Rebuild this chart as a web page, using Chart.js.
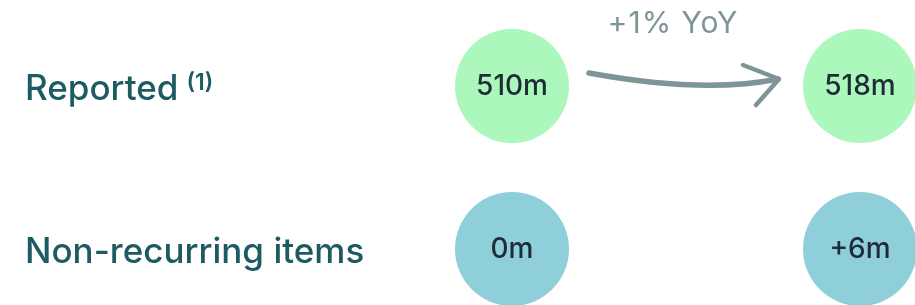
<!DOCTYPE html>
<html>
<head>
<meta charset="utf-8">
<script src="https://cdn.jsdelivr.net/npm/chart.js@4.4.0/dist/chart.umd.min.js"></script>
<style>
  html, body { margin: 0; padding: 0; background: #ffffff; }
  #wrap { width: 915px; height: 305px; position: relative; }
</style>
</head>
<body>
<div id="wrap"><canvas id="CirclesChart"></canvas></div>
<script>
// rows and periods
var rowLabels = ["Reported", "Non-recurring items"];
var rowNotes = ["(1)", ""];
var periods = ["Prior year", "Current year"];
var reportedValues = ["510m", "518m"];
var nonRecurringValues = ["0m", "+6m"];
var changeLabel = "+1% YoY";

var rowColors = ["#acf7bb", "#8ecfd9"];

window.onload = function () {
    var ctx = document.getElementById("CirclesChart").getContext('2d');
    this.CirclesChart = createChart(ctx);
}

function buildDatasets() {
    var rows = [reportedValues, nonRecurringValues];
    return rows.map(function (vals, r) {
        return {
            label: rowLabels[r],
            data: vals.map(function (v, i) { return { x: i, y: r, text: v }; }),
            backgroundColor: rowColors[r],
            borderWidth: 0,
            radius: 57,
            hoverRadius: 0,
            clip: false
        };
    });
}

var labelsPlugin = {
    id: 'rowLabels',
    afterDatasetsDraw: function (chart) {
        var c = chart.ctx;
        var xs = chart.scales.x, ys = chart.scales.y;
        c.save();
        // circle values
        chart.data.datasets.forEach(function (ds) {
            ds.data.forEach(function (d) {
                c.fillStyle = '#1f2b37';
                c.font = '500 28px Inter';
                c.textAlign = 'center';
                c.textBaseline = 'middle';
                c.fillText(d.text, xs.getPixelForValue(d.x), ys.getPixelForValue(d.y) + 1);
            });
        });
        // row labels
        rowLabels.forEach(function (lbl, r) {
            var y = ys.getPixelForValue(r);
            c.fillStyle = '#1d5b63';
            c.font = '450 35px Inter';
            c.textAlign = 'left';
            c.textBaseline = 'alphabetic';
            c.fillText(lbl, 25, y + 14);
            if (rowNotes[r]) {
                var w = c.measureText(lbl).width;
                c.font = '600 23px Inter';
                c.fillText(rowNotes[r], 25 + w + 8, y + 4);
            }
        });
        // arrow between the reported circles
        var y0 = ys.getPixelForValue(0);
        var xa = xs.getPixelForValue(0) + 77;
        var xb = xs.getPixelForValue(1) - 82;
        c.strokeStyle = '#7e9497';
        c.lineCap = 'round';
        c.lineJoin = 'round';
        c.lineWidth = 5.5;
        c.beginPath();
        c.moveTo(xa, y0 - 13);
        c.quadraticCurveTo((xa + xb) / 2 + 20, y0 + 8, xb, y0 - 7);
        c.stroke();
        c.lineWidth = 4.5;
        c.beginPath();
        c.moveTo(xb - 35, y0 - 21);
        c.lineTo(xb + 1, y0 - 7);
        c.lineTo(xb - 22, y0 + 19);
        c.stroke();
        // change label
        c.fillStyle = '#7e9497';
        c.font = '400 30px Inter';
        c.textAlign = 'center';
        c.textBaseline = 'alphabetic';
        c.letterSpacing = '1px';
        c.fillText(changeLabel, (xs.getPixelForValue(0) + xs.getPixelForValue(1)) / 2 - 13, 33);
        c.restore();
    }
};

function createChart(canvasObj) {
    // bubble charts pad the chart area by the largest radius, ranges account for that
    return new Chart(canvasObj, {
        type: 'bubble',
        data: {
            datasets: buildDatasets()
        },
        options: {
            responsive: true,
            maintainAspectRatio: false,
            animation: false,
            events: [],
            layout: { padding: 0 },
            scales: {
                x: {
                    type: 'linear',
                    display: false,
                    min: -1.3075,
                    max: 0.99425
                },
                y: {
                    type: 'linear',
                    display: false,
                    reverse: true,
                    min: -0.1779,
                    max: 0.99387
                }
            },
            plugins: {
                legend: { display: false },
                tooltip: { enabled: false }
            }
        },
        plugins: [labelsPlugin]
    });
}
</script>
</body>
</html>
